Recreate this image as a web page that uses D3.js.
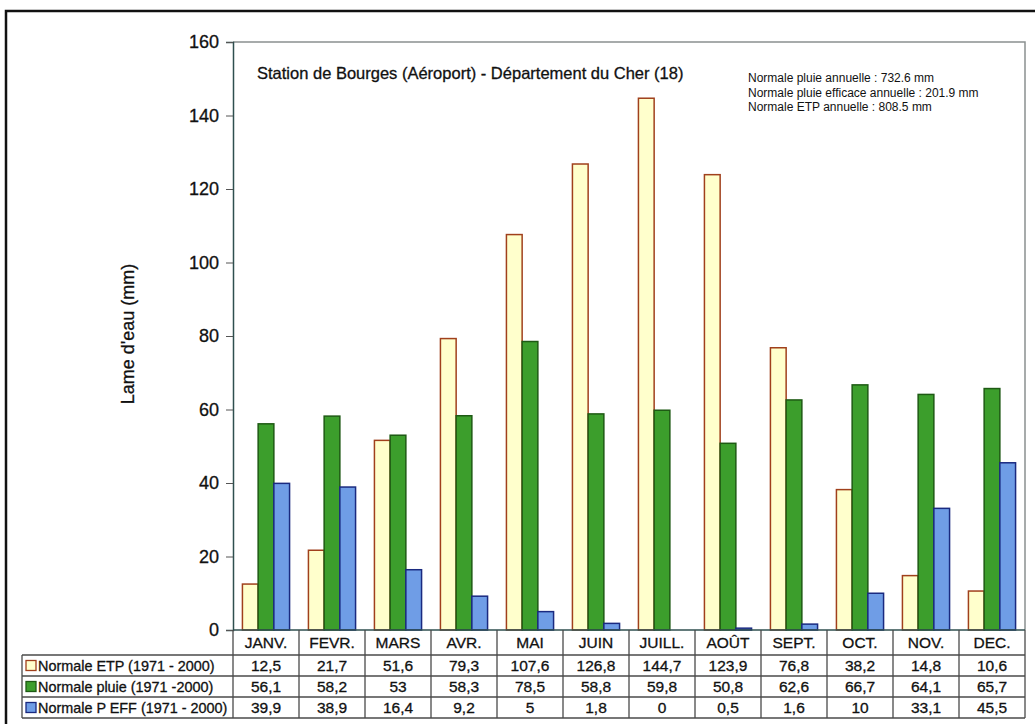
<!DOCTYPE html>
<html lang="fr">
<head>
<meta charset="utf-8">
<script src="https://cdn.jsdelivr.net/npm/d3@7"></script>
<style>
  html, body { margin: 0; padding: 0; background: #fff; }
  svg { display: block; font-family: "Liberation Sans", Arial, sans-serif; }
  .heavy { stroke: #111; stroke-width: 0.3px; }
</style>
</head>
<body>
<svg id="chart" width="1035" height="724"></svg>
<script>
// Monthly normals, Bourges airport station (1971 - 2000)
const months = ["JANV.", "FEVR.", "MARS", "AVR.", "MAI", "JUIN", "JUILL.", "AOÛT", "SEPT.", "OCT.", "NOV.", "DEC."];
const etp    = [12.5, 21.7, 51.6, 79.3, 107.6, 126.8, 144.7, 123.9, 76.8, 38.2, 14.8, 10.6];
const pluie  = [56.1, 58.2, 53, 58.3, 78.5, 58.8, 59.8, 50.8, 62.6, 66.7, 64.1, 65.7];
const pEff   = [39.9, 38.9, 16.4, 9.2, 5, 1.8, 0, 0.5, 1.6, 10, 33.1, 45.5];
const seriesNames = ["Normale ETP (1971 - 2000)", "Normale pluie (1971 -2000)", "Normale P EFF (1971 - 2000)"];
const yTicks = [0, 20, 40, 60, 80, 100, 120, 140, 160];
const title = "Station de Bourges (Aéroport) - Département du Cher (18)";
const notes = ["Normale pluie annuelle : 732.6 mm", "Normale pluie efficace annuelle : 201.9 mm", "Normale ETP annuelle : 808.5 mm"];
const yLabel = "Lame d'eau (mm)";

const series = [
  { name: seriesNames[0], values: etp,   fill: "#ffffcc", stroke: "#a0401c" },
  { name: seriesNames[1], values: pluie, fill: "#3c9e2c", stroke: "#1e5a14" },
  { name: seriesNames[2], values: pEff,  fill: "#6f9de6", stroke: "#1a2a80" }
];

const svg = d3.select("#chart");
const fmt = v => String(v).replace(".", ",");

// plot frame
const plotLeft = 233, plotRight = 1025, plotTop = 42, plotBottom = 630;
const rowH = [25, 21, 21, 21];

const x = d3.scaleBand().domain(months).range([plotLeft, plotRight]).paddingInner(0).paddingOuter(0);
const xs = d3.scaleBand().domain(d3.range(series.length)).range([0, x.bandwidth()]).paddingOuter(0.6).paddingInner(0);
const y = d3.scaleLinear().domain([0, 160]).range([plotBottom, plotTop]);

// outer frame
svg.append("path")
  .attr("d", `M6,724 L6,11 L1035,11`)
  .attr("fill", "none").attr("stroke", "#111").attr("stroke-width", 2.5);

// plot border (top and right)
svg.append("path")
  .attr("d", `M${plotLeft},${plotTop} L${plotRight},${plotTop} L${plotRight},${plotBottom}`)
  .attr("fill", "none").attr("stroke", "#8a9090").attr("stroke-width", 1.5);

// bars
series.forEach((s, i) => {
  svg.append("g").selectAll("rect")
    .data(s.values)
    .join("rect")
    .attr("x", (d, j) => x(months[j]) + xs(i))
    .attr("y", d => y(d))
    .attr("width", xs.bandwidth())
    .attr("height", d => plotBottom - y(d))
    .attr("fill", s.fill)
    .attr("stroke", s.stroke)
    .attr("stroke-width", 1.5);
});

// y axis
const yAxis = d3.axisLeft(y).tickValues(yTicks).tickSize(7).tickPadding(7);
const gy = svg.append("g").attr("transform", `translate(${plotLeft},0)`).call(yAxis);
gy.select(".domain").attr("stroke", "#2f4f4f").attr("stroke-width", 1.5);
gy.selectAll(".tick line").attr("stroke", "#555");
gy.selectAll(".tick text").attr("font-size", 18).attr("fill", "#111")
  .attr("class", "heavy")
  .attr("font-family", "Liberation Sans, Arial, sans-serif");

// axis title
svg.append("text")
  .attr("transform", `translate(134,334) rotate(-90)`)
  .attr("text-anchor", "middle")
  .attr("font-size", 18).attr("fill", "#111")
  .attr("class", "heavy")
  .text(yLabel);

// chart title and annual notes
svg.append("text")
  .attr("x", 257).attr("y", 79)
  .attr("font-size", 16.5).attr("fill", "#111")
  .attr("class", "heavy")
  .text(title);
svg.append("g").selectAll("text")
  .data(notes).join("text")
  .attr("x", 748).attr("y", (d, i) => 82 + i * 14.5)
  .attr("font-size", 12).attr("fill", "#111")
  .text(d => d);

// data table
const table = svg.append("g");
const rowTop = [plotBottom];
rowH.forEach((h, i) => rowTop.push(rowTop[i] + h));
const tableLeft = 22;
const lineColor = "#4a4a4a";

// horizontal lines
rowTop.forEach((yy, i) => {
  table.append("line")
    .attr("x1", i === 0 ? plotLeft : tableLeft).attr("x2", plotRight)
    .attr("y1", yy).attr("y2", yy)
    .attr("stroke", i === 0 ? "#2f4f4f" : lineColor).attr("stroke-width", 1.3);
});
// vertical lines
const vx = months.map(m => x(m)).concat([plotRight]);
vx.forEach(xx => {
  table.append("line")
    .attr("x1", xx).attr("x2", xx)
    .attr("y1", rowTop[0]).attr("y2", rowTop[4])
    .attr("stroke", lineColor).attr("stroke-width", 1.3);
});
table.append("line")
  .attr("x1", tableLeft).attr("x2", tableLeft)
  .attr("y1", rowTop[1]).attr("y2", rowTop[4])
  .attr("stroke", lineColor).attr("stroke-width", 1.3);

// month headers
table.selectAll("text.month")
  .data(months).join("text")
  .attr("class", "month heavy")
  .attr("x", d => x(d) + x.bandwidth() / 2)
  .attr("y", rowTop[0] + 18)
  .attr("text-anchor", "middle")
  .attr("font-size", 15.5).attr("fill", "#111")
  .text(d => d);

// series rows
series.forEach((s, i) => {
  const yy = rowTop[i + 1];
  table.append("rect")
    .attr("x", 26).attr("y", yy + 5.5)
    .attr("width", 10).attr("height", 10)
    .attr("fill", s.fill).attr("stroke", s.stroke).attr("stroke-width", 1.3);
  table.append("text")
    .attr("x", 38).attr("y", yy + 16)
    .attr("font-size", 14.4).attr("fill", "#111")
    .attr("class", "heavy")
    .text(s.name);
  table.append("g").selectAll("text")
    .data(s.values).join("text")
    .attr("x", (d, j) => x(months[j]) + x.bandwidth() / 2)
    .attr("y", yy + 16)
    .attr("text-anchor", "middle")
    .attr("font-size", 15.5).attr("fill", "#111")
    .attr("class", "heavy")
    .text(d => fmt(d));
});
</script>
</body>
</html>
